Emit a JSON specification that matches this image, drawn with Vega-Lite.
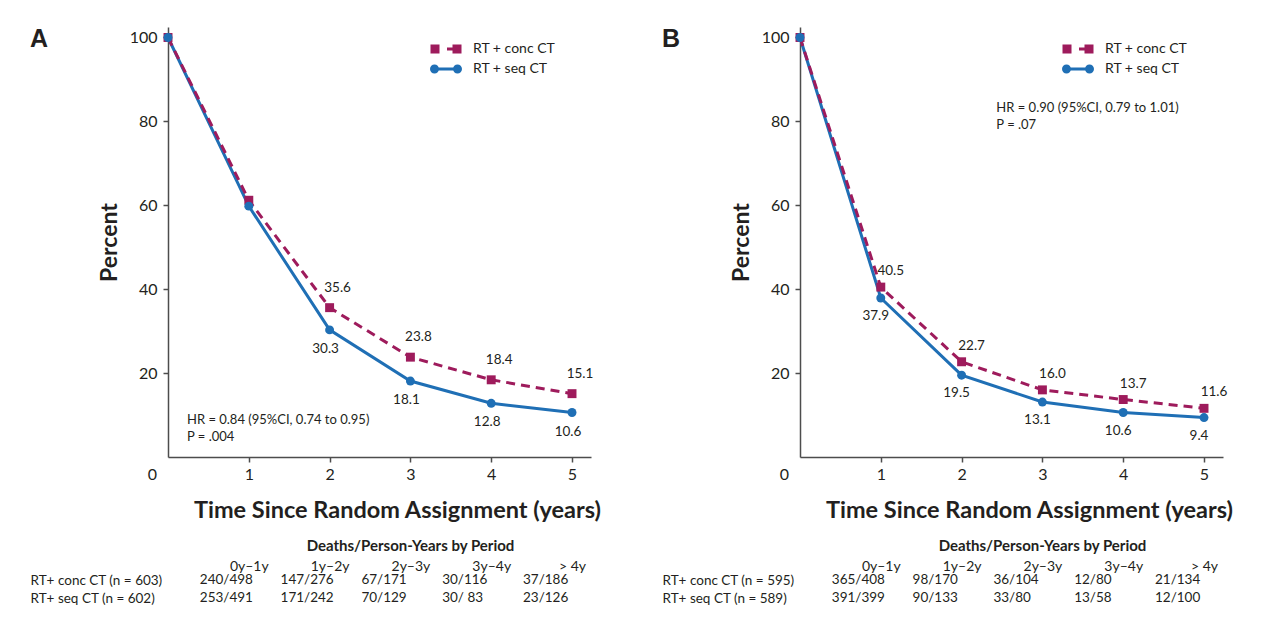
{
  "$schema": "https://vega.github.io/schema/vega-lite/v6.json",
  "background": "white",
  "padding": {"left": 30, "top": 27, "right": 0, "bottom": 0},
  "autosize": {"type": "pad"},
  "bounds": "flush",
  "columns": 2,
  "spacing": {"row": 114, "column": 209},
  "resolve": {
    "scale": {"x": "independent", "y": "independent", "color": "independent", "shape": "independent"},
    "legend": {"color": "independent", "shape": "independent"},
    "axis": {"x": "independent", "y": "independent"}
  },
  "datasets": {
    "series": [
      {"panel": "A", "group": "RT + conc CT", "year": 0, "pct": 100, "label": ""},
      {"panel": "A", "group": "RT + conc CT", "year": 1, "pct": 61.2, "label": ""},
      {"panel": "A", "group": "RT + conc CT", "year": 2, "pct": 35.6, "label": "35.6"},
      {"panel": "A", "group": "RT + conc CT", "year": 3, "pct": 23.8, "label": "23.8"},
      {"panel": "A", "group": "RT + conc CT", "year": 4, "pct": 18.4, "label": "18.4"},
      {"panel": "A", "group": "RT + conc CT", "year": 5, "pct": 15.1, "label": "15.1"},
      {"panel": "A", "group": "RT + seq CT", "year": 0, "pct": 100, "label": ""},
      {"panel": "A", "group": "RT + seq CT", "year": 1, "pct": 59.8, "label": ""},
      {"panel": "A", "group": "RT + seq CT", "year": 2, "pct": 30.3, "label": "30.3"},
      {"panel": "A", "group": "RT + seq CT", "year": 3, "pct": 18.1, "label": "18.1"},
      {"panel": "A", "group": "RT + seq CT", "year": 4, "pct": 12.8, "label": "12.8"},
      {"panel": "A", "group": "RT + seq CT", "year": 5, "pct": 10.6, "label": "10.6"},
      {"panel": "B", "group": "RT + conc CT", "year": 0, "pct": 100, "label": ""},
      {"panel": "B", "group": "RT + conc CT", "year": 1, "pct": 40.5, "label": "40.5"},
      {"panel": "B", "group": "RT + conc CT", "year": 2, "pct": 22.7, "label": "22.7"},
      {"panel": "B", "group": "RT + conc CT", "year": 3, "pct": 16.0, "label": "16.0"},
      {"panel": "B", "group": "RT + conc CT", "year": 4, "pct": 13.7, "label": "13.7"},
      {"panel": "B", "group": "RT + conc CT", "year": 5, "pct": 11.6, "label": "11.6"},
      {"panel": "B", "group": "RT + seq CT", "year": 0, "pct": 100, "label": ""},
      {"panel": "B", "group": "RT + seq CT", "year": 1, "pct": 37.9, "label": "37.9"},
      {"panel": "B", "group": "RT + seq CT", "year": 2, "pct": 19.5, "label": "19.5"},
      {"panel": "B", "group": "RT + seq CT", "year": 3, "pct": 13.1, "label": "13.1"},
      {"panel": "B", "group": "RT + seq CT", "year": 4, "pct": 10.6, "label": "10.6"},
      {"panel": "B", "group": "RT + seq CT", "year": 5, "pct": 9.4, "label": "9.4"}
    ],
    "table": [
      {"panel": "A", "group": "RT+ conc CT (n = 603)", "period": "0y–1y", "value": "240/498"},
      {"panel": "A", "group": "RT+ conc CT (n = 603)", "period": "1y–2y", "value": "147/276"},
      {"panel": "A", "group": "RT+ conc CT (n = 603)", "period": "2y–3y", "value": "67/171"},
      {"panel": "A", "group": "RT+ conc CT (n = 603)", "period": "3y–4y", "value": "30/116"},
      {"panel": "A", "group": "RT+ conc CT (n = 603)", "period": "> 4y", "value": "37/186"},
      {"panel": "A", "group": "RT+ seq CT (n = 602)", "period": "0y–1y", "value": "253/491"},
      {"panel": "A", "group": "RT+ seq CT (n = 602)", "period": "1y–2y", "value": "171/242"},
      {"panel": "A", "group": "RT+ seq CT (n = 602)", "period": "2y–3y", "value": "70/129"},
      {"panel": "A", "group": "RT+ seq CT (n = 602)", "period": "3y–4y", "value": "30/ 83"},
      {"panel": "A", "group": "RT+ seq CT (n = 602)", "period": "> 4y", "value": "23/126"},
      {"panel": "B", "group": "RT+ conc CT (n = 595)", "period": "0y–1y", "value": "365/408"},
      {"panel": "B", "group": "RT+ conc CT (n = 595)", "period": "1y–2y", "value": "98/170"},
      {"panel": "B", "group": "RT+ conc CT (n = 595)", "period": "2y–3y", "value": "36/104"},
      {"panel": "B", "group": "RT+ conc CT (n = 595)", "period": "3y–4y", "value": "12/80"},
      {"panel": "B", "group": "RT+ conc CT (n = 595)", "period": "> 4y", "value": "21/134"},
      {"panel": "B", "group": "RT+ seq CT (n = 589)", "period": "0y–1y", "value": "391/399"},
      {"panel": "B", "group": "RT+ seq CT (n = 589)", "period": "1y–2y", "value": "90/133"},
      {"panel": "B", "group": "RT+ seq CT (n = 589)", "period": "2y–3y", "value": "33/80"},
      {"panel": "B", "group": "RT+ seq CT (n = 589)", "period": "3y–4y", "value": "13/58"},
      {"panel": "B", "group": "RT+ seq CT (n = 589)", "period": "> 4y", "value": "12/100"}
    ],
    "stats": [
      {"panel": "A", "hr": "HR = 0.84 (95%CI, 0.74 to 0.95)", "p": "P = .004"},
      {"panel": "B", "hr": "HR = 0.90 (95%CI, 0.79 to 1.01)", "p": "P = .07"}
    ]
  },
  "concat": [
    {
      "width": 423,
      "height": 430,
      "title": {"text": "A", "anchor": "start", "frame": "group", "orient": "top", "offset": 0, "dx": -138, "dy": 45, "baseline": "alphabetic", "fontSize": 25, "font": "Liberation Sans", "fontWeight": "bold", "color": "#231f20"},
      "layer": [
        {
          "data": {"name": "series"},
          "transform": [{"filter": "datum.panel === 'A' && datum.group === 'RT + seq CT'"}],
          "mark": {"type": "line", "color": "#1f6fb5", "strokeWidth": 3},
          "encoding": {
            "x": {
              "field": "year", "type": "quantitative",
              "scale": {"domain": [0, 5.235], "nice": false, "zero": false},
              "axis": {
                "values": [0, 1, 2, 3, 4, 5], "format": "d", "grid": false, "labelFlush": false, "labelOverlap": false,
                "domainColor": "#4d4d4d", "domainWidth": 1.5, "tickColor": "#4d4d4d", "tickWidth": 1.5, "tickSize": 5,
                "tickOpacity": {"condition": {"test": "datum.value === 0", "value": 0}, "value": 1},
                "labelOffset": {"condition": {"test": "datum.value === 0", "value": -16}, "value": 0},
                "labelFontSize": 16, "labelPadding": 4, "labelColor": "#231f20",
                "title": "Time Since Random Assignment (years)", "titleFontSize": 23.5, "titleFontWeight": "bold",
                "titleColor": "#231f20", "titlePadding": 16, "titleX": 229
              }
            },
            "y": {
              "field": "pct", "type": "quantitative",
              "scale": {"domain": [0, 102.5], "nice": false},
              "axis": {
                "values": [20, 40, 60, 80, 100], "format": "d", "grid": false, "labelFlush": false, "labelOverlap": false,
                "domainColor": "#4d4d4d", "domainWidth": 1.5, "tickColor": "#4d4d4d", "tickWidth": 1.5, "tickSize": 5,
                "labelFontSize": 16, "labelPadding": 6, "labelColor": "#231f20",
                "title": "Percent", "titleFontSize": 23, "titleFontWeight": "bold", "titleColor": "#231f20", "titlePadding": 8
              }
            }
          }
        },
        {
          "data": {"name": "series"},
          "transform": [{"filter": "datum.panel === 'A' && datum.group === 'RT + conc CT'"}],
          "mark": {"type": "line", "color": "#9e1b5c", "strokeWidth": 3, "strokeDash": [9, 6]},
          "encoding": {"x": {"field": "year", "type": "quantitative"}, "y": {"field": "pct", "type": "quantitative"}}
        },
        {
          "data": {"name": "series"},
          "transform": [{"filter": "datum.panel === 'A' && datum.group === 'RT + conc CT'"}],
          "mark": {"type": "point", "shape": "square", "filled": true, "size": 80, "color": "#9e1b5c", "opacity": 1},
          "encoding": {"x": {"field": "year", "type": "quantitative"}, "y": {"field": "pct", "type": "quantitative"}}
        },
        {
          "data": {"name": "series"},
          "transform": [{"filter": "datum.panel === 'A' && datum.group === 'RT + seq CT'"}],
          "mark": {"type": "point", "shape": "circle", "filled": true, "size": 80, "color": "#1f6fb5", "opacity": 1},
          "encoding": {"x": {"field": "year", "type": "quantitative"}, "y": {"field": "pct", "type": "quantitative"}}
        },
        {
          "data": {"name": "series"},
          "transform": [{"filter": "datum.panel === 'A'"}],
          "mark": {"type": "point", "filled": true, "opacity": 0},
          "encoding": {
            "x": {"field": "year", "type": "quantitative"},
            "y": {"field": "pct", "type": "quantitative"},
            "color": {
              "field": "group", "type": "nominal",
              "scale": {"domain": ["RT + conc CT", "RT + seq CT"], "range": ["#9e1b5c", "#1f6fb5"]},
              "legend": {"orient": "none", "legendX": 268, "legendY": 12, "title": null, "symbolSize": 400, "labelOffset": 17, "labelFontSize": 14, "labelColor": "#231f20", "rowPadding": 3, "padding": 0, "symbolStrokeWidth": 0, "symbolOpacity": 1}
            },
            "shape": {
              "field": "group", "type": "nominal",
              "scale": {"domain": ["RT + conc CT", "RT + seq CT"], "range": ["M-1.55,-0.45 H-0.65 V0.45 H-1.55 Z M0.1,-0.15 H0.7 V0.15 H0.1 Z M0.65,-0.45 H1.55 V0.45 H0.65 Z", "M-1.6,0 A0.45,0.45 0 1,1 -0.7,0 A0.45,0.45 0 1,1 -1.6,0 Z M-0.75,-0.15 H0.75 V0.15 H-0.75 Z M0.7,0 A0.45,0.45 0 1,1 1.6,0 A0.45,0.45 0 1,1 0.7,0 Z"]},
              "legend": {"orient": "none", "legendX": 268, "legendY": 12, "title": null, "symbolSize": 400, "labelOffset": 17, "labelFontSize": 14, "labelColor": "#231f20", "rowPadding": 3, "padding": 0, "symbolStrokeWidth": 0, "symbolOpacity": 1}
            }
          }
        },
        {
          "data": {"name": "series"},
          "transform": [{"filter": "datum.panel === 'A' && datum.group === 'RT + conc CT' && datum.label !== ''"}],
          "mark": {"type": "text", "dx": 8, "dy": -20, "fontSize": 13.5, "color": "#231f20"},
          "encoding": {"x": {"field": "year", "type": "quantitative"}, "y": {"field": "pct", "type": "quantitative"}, "text": {"field": "label"}}
        },
        {
          "data": {"name": "series"},
          "transform": [{"filter": "datum.panel === 'A' && datum.group === 'RT + seq CT' && datum.label !== ''"}],
          "mark": {"type": "text", "dx": -4, "dy": 19, "fontSize": 13.5, "color": "#231f20"},
          "encoding": {"x": {"field": "year", "type": "quantitative"}, "y": {"field": "pct", "type": "quantitative"}, "text": {"field": "label"}}
        },
        {
          "data": {"name": "stats"},
          "transform": [{"filter": "datum.panel === 'A'"}],
          "mark": {"type": "text", "align": "left", "baseline": "middle", "fontSize": 13, "color": "#231f20"},
          "encoding": {"x": {"datum": 0.235}, "y": {"datum": 8.8}, "text": {"field": "hr"}}
        },
        {
          "data": {"name": "stats"},
          "transform": [{"filter": "datum.panel === 'A'"}],
          "mark": {"type": "text", "align": "left", "baseline": "middle", "fontSize": 13, "color": "#231f20"},
          "encoding": {"x": {"datum": 0.235}, "y": {"datum": 4.8}, "text": {"field": "p"}}
        }
      ]
    },
    {
      "width": 423,
      "height": 430,
      "title": {"text": "B", "anchor": "start", "frame": "group", "orient": "top", "offset": 0, "dx": -138, "dy": 45, "baseline": "alphabetic", "fontSize": 25, "font": "Liberation Sans", "fontWeight": "bold", "color": "#231f20"},
      "layer": [
        {
          "data": {"name": "series"},
          "transform": [{"filter": "datum.panel === 'B' && datum.group === 'RT + seq CT'"}],
          "mark": {"type": "line", "color": "#1f6fb5", "strokeWidth": 3},
          "encoding": {
            "x": {
              "field": "year", "type": "quantitative",
              "scale": {"domain": [0, 5.235], "nice": false, "zero": false},
              "axis": {
                "values": [0, 1, 2, 3, 4, 5], "format": "d", "grid": false, "labelFlush": false, "labelOverlap": false,
                "domainColor": "#4d4d4d", "domainWidth": 1.5, "tickColor": "#4d4d4d", "tickWidth": 1.5, "tickSize": 5,
                "tickOpacity": {"condition": {"test": "datum.value === 0", "value": 0}, "value": 1},
                "labelOffset": {"condition": {"test": "datum.value === 0", "value": -16}, "value": 0},
                "labelFontSize": 16, "labelPadding": 4, "labelColor": "#231f20",
                "title": "Time Since Random Assignment (years)", "titleFontSize": 23.5, "titleFontWeight": "bold",
                "titleColor": "#231f20", "titlePadding": 16, "titleX": 229
              }
            },
            "y": {
              "field": "pct", "type": "quantitative",
              "scale": {"domain": [0, 102.5], "nice": false},
              "axis": {
                "values": [20, 40, 60, 80, 100], "format": "d", "grid": false, "labelFlush": false, "labelOverlap": false,
                "domainColor": "#4d4d4d", "domainWidth": 1.5, "tickColor": "#4d4d4d", "tickWidth": 1.5, "tickSize": 5,
                "labelFontSize": 16, "labelPadding": 6, "labelColor": "#231f20",
                "title": "Percent", "titleFontSize": 23, "titleFontWeight": "bold", "titleColor": "#231f20", "titlePadding": 8
              }
            }
          }
        },
        {
          "data": {"name": "series"},
          "transform": [{"filter": "datum.panel === 'B' && datum.group === 'RT + conc CT'"}],
          "mark": {"type": "line", "color": "#9e1b5c", "strokeWidth": 3, "strokeDash": [9, 6]},
          "encoding": {"x": {"field": "year", "type": "quantitative"}, "y": {"field": "pct", "type": "quantitative"}}
        },
        {
          "data": {"name": "series"},
          "transform": [{"filter": "datum.panel === 'B' && datum.group === 'RT + conc CT'"}],
          "mark": {"type": "point", "shape": "square", "filled": true, "size": 80, "color": "#9e1b5c", "opacity": 1},
          "encoding": {"x": {"field": "year", "type": "quantitative"}, "y": {"field": "pct", "type": "quantitative"}}
        },
        {
          "data": {"name": "series"},
          "transform": [{"filter": "datum.panel === 'B' && datum.group === 'RT + seq CT'"}],
          "mark": {"type": "point", "shape": "circle", "filled": true, "size": 80, "color": "#1f6fb5", "opacity": 1},
          "encoding": {"x": {"field": "year", "type": "quantitative"}, "y": {"field": "pct", "type": "quantitative"}}
        },
        {
          "data": {"name": "series"},
          "transform": [{"filter": "datum.panel === 'B'"}],
          "mark": {"type": "point", "filled": true, "opacity": 0},
          "encoding": {
            "x": {"field": "year", "type": "quantitative"},
            "y": {"field": "pct", "type": "quantitative"},
            "color": {
              "field": "group", "type": "nominal",
              "scale": {"domain": ["RT + conc CT", "RT + seq CT"], "range": ["#9e1b5c", "#1f6fb5"]},
              "legend": {"orient": "none", "legendX": 268, "legendY": 12, "title": null, "symbolSize": 400, "labelOffset": 17, "labelFontSize": 14, "labelColor": "#231f20", "rowPadding": 3, "padding": 0, "symbolStrokeWidth": 0, "symbolOpacity": 1}
            },
            "shape": {
              "field": "group", "type": "nominal",
              "scale": {"domain": ["RT + conc CT", "RT + seq CT"], "range": ["M-1.55,-0.45 H-0.65 V0.45 H-1.55 Z M0.1,-0.15 H0.7 V0.15 H0.1 Z M0.65,-0.45 H1.55 V0.45 H0.65 Z", "M-1.6,0 A0.45,0.45 0 1,1 -0.7,0 A0.45,0.45 0 1,1 -1.6,0 Z M-0.75,-0.15 H0.75 V0.15 H-0.75 Z M0.7,0 A0.45,0.45 0 1,1 1.6,0 A0.45,0.45 0 1,1 0.7,0 Z"]},
              "legend": {"orient": "none", "legendX": 268, "legendY": 12, "title": null, "symbolSize": 400, "labelOffset": 17, "labelFontSize": 14, "labelColor": "#231f20", "rowPadding": 3, "padding": 0, "symbolStrokeWidth": 0, "symbolOpacity": 1}
            }
          }
        },
        {
          "data": {"name": "series"},
          "transform": [{"filter": "datum.panel === 'B' && datum.group === 'RT + conc CT' && datum.label !== ''"}],
          "mark": {"type": "text", "dx": 10, "dy": -16, "fontSize": 13.5, "color": "#231f20"},
          "encoding": {"x": {"field": "year", "type": "quantitative"}, "y": {"field": "pct", "type": "quantitative"}, "text": {"field": "label"}}
        },
        {
          "data": {"name": "series"},
          "transform": [{"filter": "datum.panel === 'B' && datum.group === 'RT + seq CT' && datum.label !== ''"}],
          "mark": {"type": "text", "dx": -5, "dy": 18, "fontSize": 13.5, "color": "#231f20"},
          "encoding": {"x": {"field": "year", "type": "quantitative"}, "y": {"field": "pct", "type": "quantitative"}, "text": {"field": "label"}}
        },
        {
          "data": {"name": "stats"},
          "transform": [{"filter": "datum.panel === 'B'"}],
          "mark": {"type": "text", "align": "left", "baseline": "middle", "fontSize": 13, "color": "#231f20"},
          "encoding": {"x": {"datum": 2.43}, "y": {"datum": 83.2}, "text": {"field": "hr"}}
        },
        {
          "data": {"name": "stats"},
          "transform": [{"filter": "datum.panel === 'B'"}],
          "mark": {"type": "text", "align": "left", "baseline": "middle", "fontSize": 13, "color": "#231f20"},
          "encoding": {"x": {"datum": 2.43}, "y": {"datum": 79.1}, "text": {"field": "p"}}
        }
      ]
    },
    {
      "width": 423,
      "height": 36,
      "data": {"name": "table"},
      "transform": [{"filter": "datum.panel === 'A'"}],
      "mark": {"type": "text", "align": "left", "dx": -49, "fontSize": 13.5, "color": "#231f20"},
      "encoding": {
        "x": {
          "field": "period", "type": "ordinal", "sort": null,
          "scale": {"type": "point", "range": [80.8, 404], "padding": 0},
          "axis": {"orient": "top", "title": "Deaths/Person-Years by Period", "titleFontSize": 15, "titleFontWeight": "bold", "titleColor": "#231f20", "titleX": 242, "titlePadding": 6, "domain": false, "ticks": false, "labelAngle": 0, "labelPadding": -2, "labelFontSize": 14, "labelColor": "#231f20"}
        },
        "y": {
          "field": "group", "type": "nominal", "sort": null,
          "axis": {"title": null, "domain": false, "ticks": false, "labelAlign": "left", "labelPadding": 138, "labelFontSize": 13.5, "labelLimit": 300, "labelColor": "#231f20"}
        },
        "text": {"field": "value"}
      }
    },
    {
      "width": 423,
      "height": 36,
      "data": {"name": "table"},
      "transform": [{"filter": "datum.panel === 'B'"}],
      "mark": {"type": "text", "align": "left", "dx": -49, "fontSize": 13.5, "color": "#231f20"},
      "encoding": {
        "x": {
          "field": "period", "type": "ordinal", "sort": null,
          "scale": {"type": "point", "range": [80.8, 404], "padding": 0},
          "axis": {"orient": "top", "title": "Deaths/Person-Years by Period", "titleFontSize": 15, "titleFontWeight": "bold", "titleColor": "#231f20", "titleX": 242, "titlePadding": 6, "domain": false, "ticks": false, "labelAngle": 0, "labelPadding": -2, "labelFontSize": 14, "labelColor": "#231f20"}
        },
        "y": {
          "field": "group", "type": "nominal", "sort": null,
          "axis": {"title": null, "domain": false, "ticks": false, "labelAlign": "left", "labelPadding": 138, "labelFontSize": 13.5, "labelLimit": 300, "labelColor": "#231f20"}
        },
        "text": {"field": "value"}
      }
    }
  ],
  "config": {
    "font": "Lato",
    "view": {"stroke": null},
    "axis": {"labelFont": "Lato", "titleFont": "Lato"},
    "legend": {"labelFont": "Lato"},
    "text": {"font": "Lato"}
  }
}
